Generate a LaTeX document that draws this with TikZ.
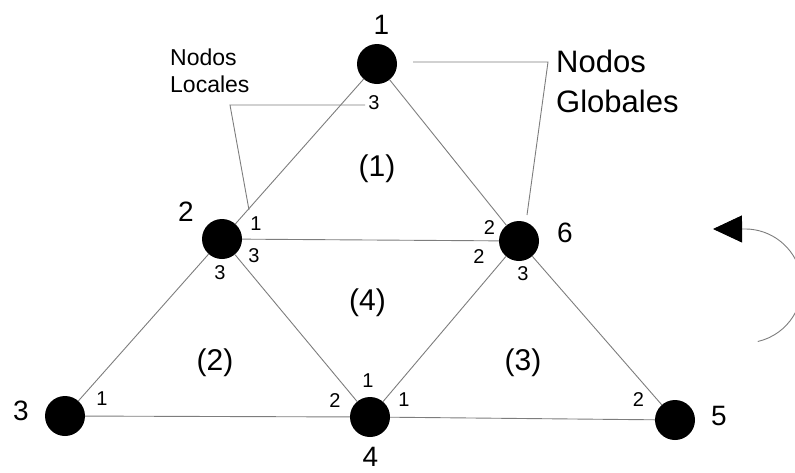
\documentclass[tikz,border=0pt]{standalone}
\usepackage{fontspec}
\setmainfont{Liberation Sans}
\usetikzlibrary{arrows.meta}
\definecolor{edgegray}{RGB}{125,125,125}
\begin{document}
\begin{tikzpicture}[x=1pt,y=-1pt,
  gnode/.style={circle,fill=black,inner sep=0pt,minimum size=40pt},
  edgeline/.style={draw=edgegray,line width=0.9pt},
  big/.style={inner sep=0pt,font=\fontsize{28}{34}\selectfont},
  elem/.style={inner sep=0pt,font=\fontsize{30}{36}\selectfont},
  loc/.style={inner sep=0pt,font=\fontsize{20}{24}\selectfont},
  lbl/.style={inner sep=0pt,anchor=base west},
]
\useasboundingbox (0,0) rectangle (795,472);

% global nodes
\node[gnode] (n1) at (377,64) {};
\node[gnode] (n2) at (222,239) {};
\node[gnode] (n6) at (519,241) {};
\node[gnode] (n3) at (65,416) {};
\node[gnode] (n4) at (370,417) {};
\node[gnode] (n5) at (675,420) {};

% element edges
\draw[edgeline] (n1) -- (n2);
\draw[edgeline] (n1) -- (n6);
\draw[edgeline] (n2) -- (n6);
\draw[edgeline] (n2) -- (n3);
\draw[edgeline] (n2) -- (n4);
\draw[edgeline] (n6) -- (n4);
\draw[edgeline] (n6) -- (n5);
\draw[edgeline] (n3) -- (n4);
\draw[edgeline] (n4) -- (n5);

% global numbers
\node[big] (g1) at (381.5,25) {1};
\node[big] (g2) at (186,212) {2};
\node[big] (g6) at (565,233) {6};
\node[big] (g3) at (21,411) {3};
\node[big] (g4) at (370.5,457) {4};
\node[big] (g5) at (719,416) {5};

% element numbers
\node[elem] (e1) at (377,169) {(1)};
\node[elem] (e4) at (367.5,302.5) {(4)};
\node[elem] (e2) at (215,362.5) {(2)};
\node[elem] (e3) at (523,362.5) {(3)};

% local numbers
\node[loc] (l13) at (374,102.5) {3};
\node[loc] (l21) at (256,224) {1};
\node[loc] (l23a) at (254,255.5) {3};
\node[loc] (l23b) at (220,273) {3};
\node[loc] (l62a) at (489.5,227.5) {2};
\node[loc] (l62b) at (479,257) {2};
\node[loc] (l63) at (523,273.5) {3};
\node[loc] (l41a) at (368,381) {1};
\node[loc] (l42) at (335,400.5) {2};
\node[loc] (l41b) at (404,399.5) {1};
\node[loc] (l31) at (102,398.5) {1};
\node[loc] (l52) at (638.5,400) {2};

% captions
\node[lbl,font=\fontsize{23}{27}\selectfont] (nl1) at (170,65) {Nodos};
\node[lbl,font=\fontsize{23}{27}\selectfont] (nl2) at (170,92) {Locales};
\node[lbl,font=\fontsize{31}{40}\selectfont] (ng1) at (556,72) {Nodos};
\node[lbl,font=\fontsize{31}{40}\selectfont] (ng2) at (556,112) {Globales};

% leaders
\coordinate (la) at (365,105);
\coordinate (lc) at (230,105);
\coordinate (le) at (249,210);
\draw[edgeline] (la) -- (lc) -- (le);
\coordinate (ga) at (413,62);
\coordinate (gc) at (548,62);
\coordinate (ge) at (527,215);
\draw[edgeline] (ga) -- (gc) -- (ge);

% rotation arrow
\coordinate (rs) at (757.8,341.5);
\coordinate (rt) at (713,229);
\draw[edgeline,-{Triangle[length=29pt,width=27pt,color=black]}]
  (rs) arc[start angle=77,end angle=-90,radius=57] -- (rt);
\end{tikzpicture}
\end{document}
